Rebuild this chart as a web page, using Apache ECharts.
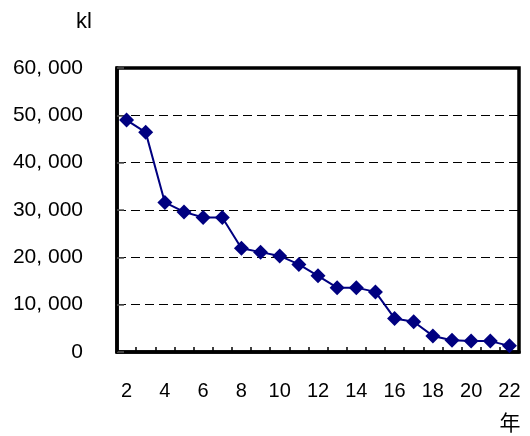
<!DOCTYPE html>
<html>
<head>
<meta charset="utf-8">
<script src="https://cdn.jsdelivr.net/npm/echarts@6/dist/echarts.min.js"></script>
<style>
  html, body { margin: 0; padding: 0; background: #fff; }
  #chart { width: 530px; height: 436px; }
</style>
</head>
<body>
<div id="chart"></div>
<script>
// Year numbers along the x axis
const years = ['2','3','4','5','6','7','8','9','10','11','12','13','14','15','16','17','18','19','20','21','22'];
// Volume per year, in kl
const volumes = [49000, 46400, 31600, 29600, 28400, 28400, 21900, 21100, 20300, 18500, 16100,
                 13600, 13600, 12700, 7100, 6400, 3400, 2500, 2300, 2300, 1300];

const FONT = '"Liberation Sans", Arial, sans-serif';

function fmt(v) {
  if (v === 0) return '0';
  const s = String(v);
  return s.slice(0, s.length - 3) + ', ' + s.slice(s.length - 3);
}

const chart = echarts.init(document.getElementById('chart'), null, { renderer: 'canvas' });
chart.setOption({
  animation: false,
  backgroundColor: '#fff',
  grid: {
    left: 117, right: 11, top: 68, bottom: 84,
    show: true, borderColor: '#000', borderWidth: 3.5, backgroundColor: 'transparent'
  },
  xAxis: {
    type: 'category',
    data: years,
    boundaryGap: true,
    name: '年',
    nameLocation: 'end',
    nameGap: 0,
    nameTextStyle: { fontFamily: '"Noto Sans CJK JP", sans-serif', fontSize: 21, color: '#000',
                     align: 'center', verticalAlign: 'top', padding: [60, 0, 0, -18] },
    axisLine: { show: true, lineStyle: { color: '#000', width: 3.5 } },
    axisTick: { show: true, inside: true, length: 5, interval: 0, lineStyle: { color: '#000', width: 1.5 } },
    axisLabel: { interval: 1, margin: 29, fontFamily: FONT, fontSize: 20, color: '#000' },
    splitLine: { show: false }
  },
  yAxis: {
    type: 'value',
    min: 0, max: 60000, interval: 10000,
    name: 'kl',
    nameLocation: 'end',
    nameGap: 0,
    nameTextStyle: { fontFamily: FONT, fontSize: 22, color: '#000',
                     align: 'center', verticalAlign: 'bottom', padding: [0, 0, 35, -66] },
    axisLine: { show: true, lineStyle: { color: '#000', width: 3.5 } },
    axisTick: { show: true, inside: true, length: 7, lineStyle: { color: '#555', width: 1.5 } },
    axisLabel: { margin: 34, fontFamily: FONT, fontSize: 21, color: '#000', formatter: fmt },
    splitLine: { show: true, lineStyle: { color: '#000', width: 1.2, type: [9, 5] } }
  },
  series: [{
    type: 'line',
    data: volumes,
    symbol: 'diamond',
    symbolSize: 15,
    showAllSymbol: true,
    lineStyle: { color: '#000080', width: 2 },
    itemStyle: { color: '#000080' },
    z: 5
  }]
});
</script>
</body>
</html>
